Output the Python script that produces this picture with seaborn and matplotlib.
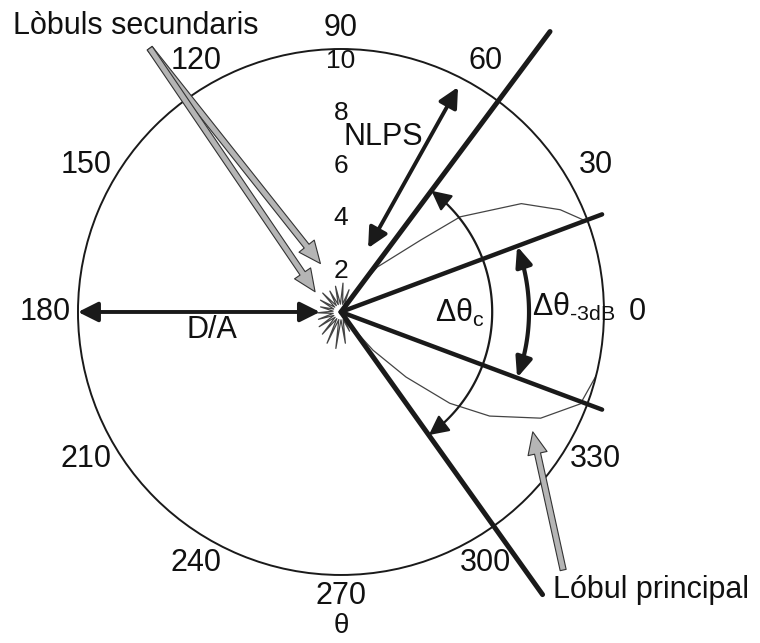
# Antenna radiation pattern (polar) - main lobe, side lobes, beamwidths
import numpy as np
import pandas as pd
import matplotlib
matplotlib.use("Agg")
import matplotlib.pyplot as plt
import seaborn as sns

# main lobe contour (deg, linear units 0-10)
lobe_theta = [-62, -55, -50, -45, -40, -35, -28, -21, -13, -5, 0, 5, 11, 20, 25, 31, 38.6, 42, 51, 55, 62]
lobe_r = [0.2, 0.6, 1.9, 3.5, 5.4, 6.9, 8.6, 9.75, 10.05, 10.05, 10.05, 10.05, 10.1, 10.0, 9.2, 8.0, 5.8, 4.1, 2.2, 0.9, 0.2]

# side lobes (small star round the origin)
side_theta = [62, 70, 78, 86, 94, 102, 110, 118, 126, 134, 142, 150, 158, 166, 174, 182,
              190, 198, 206, 214, 222, 230, 238, 246, 254, 262, 270, 278, 286, 294, 298]
side_r = [0.2, 0.9, 0.3, 1.1, 0.3, 1.0, 0.3, 0.9, 0.3, 1.0, 0.3, 0.9, 0.3, 0.8, 0.3, 0.9,
          0.3, 0.9, 0.3, 1.0, 0.3, 1.1, 0.3, 1.3, 0.3, 1.4, 0.3, 1.2, 0.3, 0.8, 0.2]

theta_ticks = [0, 30, 60, 90, 120, 150, 180, 210, 240, 270, 300, 330]
theta_labels = ["0", "30", "60", "90", "120", "150", "180", "210", "240", "270", "300", "330"]
r_ticks = [2, 4, 6, 8, 10]
r_labels = ["2", "4", "6", "8", "10"]

hpbw_edges = [-20.5, 20.5]     # -3 dB beam edges (deg)
null_edges = [-54.5, 53.3]     # first nulls (deg)
null_len = [13.2, 13.3]
nlps_from = (67.0, 2.64)       # (deg, r)
nlps_to = (62.5, 9.64)

sns.set_theme(style="white")
plt.rcParams["font.family"] = ["Liberation Sans", "DejaVu Sans"]
plt.rcParams["mathtext.fontset"] = "custom"
plt.rcParams["mathtext.rm"] = "Liberation Sans"
plt.rcParams["mathtext.default"] = "regular"

ink = "#111111"
fig = plt.figure(figsize=(7.6, 6.43), dpi=100)
ax = fig.add_axes([0.1026, 0.1058, 0.6921, 0.818], projection="polar")
ax.set_ylim(0, 10)
ax.set_xticks([])
ax.set_yticks([])
ax.grid(False)
ax.spines["polar"].set_linewidth(1.4)
ax.spines["polar"].set_color("#1a1a1a")

# pattern
pat = pd.DataFrame({
    "theta": np.deg2rad(lobe_theta + side_theta),
    "r": lobe_r + side_r,
})
ax.fill(pat["theta"], pat["r"], color="white", zorder=1)
sns.lineplot(data=pat, x="theta", y="r", sort=False, estimator=None,
             color="#444444", lw=0.9, ax=ax, zorder=2)
ax.set_xlabel("")
ax.set_ylabel("")

# beam edge lines
for a in hpbw_edges:
    ax.plot([np.deg2rad(a)] * 2, [0, 10.6], color="k", lw=3.2, clip_on=False, zorder=3)
for a, L in zip(null_edges, null_len):
    ax.plot([np.deg2rad(a)] * 2, [0, L], color="k", lw=3.6, clip_on=False, zorder=3)


def arc_arrow(a0, a1, r, lw, hl, hw):
    th = np.deg2rad(np.linspace(a0 + 2, a1 - 2, 120))
    ax.plot(th, np.full_like(th, r), color="k", lw=lw, clip_on=False, zorder=3)
    style = f"-|>,head_length={hl},head_width={hw}"
    for tip, back in [(a1, a1 - 4), (a0, a0 + 4)]:
        ax.annotate("", xy=(np.deg2rad(tip), r), xytext=(np.deg2rad(back), r),
                    arrowprops=dict(arrowstyle=style, color="k", lw=lw,
                                    shrinkA=0, shrinkB=0, mutation_scale=20))


arc_arrow(null_edges[0], null_edges[1], 5.75, 1.6, 0.6, 0.3)
arc_arrow(hpbw_edges[0], hpbw_edges[1], 7.15, 3.0, 0.6, 0.25)

# NLPS double arrow
ax.annotate("", xy=(np.deg2rad(nlps_to[0]), nlps_to[1]),
            xytext=(np.deg2rad(nlps_from[0]), nlps_from[1]),
            arrowprops=dict(arrowstyle="<|-|>,head_length=0.6,head_width=0.3", color="k",
                            lw=2.8, shrinkA=0, shrinkB=0, mutation_scale=20))
# D/A double arrow
ax.annotate("", xy=(np.pi, 10), xytext=(np.pi, 0.8),
            arrowprops=dict(arrowstyle="<|-|>,head_length=0.6,head_width=0.3", color="k",
                            lw=2.8, shrinkA=0, shrinkB=0, mutation_scale=20))

# grey pointer arrows
grey = dict(arrowstyle="simple,head_length=0.8,head_width=0.7,tail_width=0.22",
            fc="#b5b5b5", ec="#333333", lw=0.8, shrinkA=0, shrinkB=0, mutation_scale=20)
for tip in [(113, 2.0), (142, 1.25)]:
    ax.annotate("", xy=(np.deg2rad(tip[0]), tip[1]), xycoords="data",
                xytext=(0.197, 0.925), textcoords="figure fraction", arrowprops=grey)
ax.annotate("", xy=(np.deg2rad(-32), 8.6), xycoords="data",
            xytext=(0.741, 0.1135), textcoords="figure fraction", arrowprops=grey)

# angle labels
for t, lab in zip(theta_ticks, theta_labels):
    rr = 10.8 + 0.45 * abs(np.cos(np.deg2rad(t)))
    ax.text(np.deg2rad(t), rr, lab, ha="center", va="center", fontsize=22, color=ink)
# radius labels
for r, lab in zip(r_ticks, r_labels):
    ax.text(np.pi / 2, r - 0.35, lab, ha="center", va="center_baseline", fontsize=19, color=ink)

ax.text(np.deg2rad(76.5), 6.84, "NLPS", ha="center", va="center", fontsize=22, color=ink)
ax.text(np.deg2rad(188), 4.95, "D/A", ha="center", va="center", fontsize=22, color=ink)
ax.text(np.deg2rad(-0.5), 4.52, "$Δθ_{c}$", ha="center", va="center", fontsize=22, color=ink)
ax.text(np.deg2rad(1.5), 7.27, r"$Δθ_{\text{-3dB}}$", ha="left", va="center", fontsize=22, color=ink)
ax.text(np.deg2rad(270), 11.95, "θ", ha="center", va="center", fontsize=20, color=ink)

fig.text(13 / 760, 1 - 26 / 643, "Lòbuls secundaris", ha="left", va="center", fontsize=22, color=ink)
fig.text(553 / 760, 1 - 590 / 643, "Lóbul principal", ha="left", va="center", fontsize=22, color=ink)

fig.savefig("out.png", dpi=100, facecolor="white")
